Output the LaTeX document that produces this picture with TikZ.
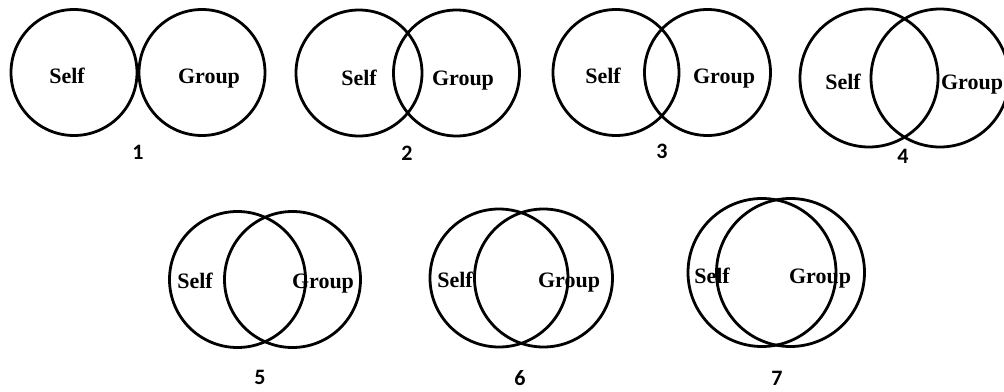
\documentclass[tikz,border=0pt]{standalone}
\usepackage{fontspec}
\setmainfont{Liberation Serif}
\newfontfamily\numfont{Carlito}
\begin{document}
\begin{tikzpicture}[x=1pt,y=-1pt,
  ring/.style={circle,draw=black,line width=2.8pt,inner sep=0pt,minimum size=#1},
  word/.style={font=\fontsize{22}{22}\selectfont\bfseries,inner sep=0pt,anchor=base},
  num/.style={font=\numfont\fontsize{22}{22}\selectfont\bfseries,inner sep=0pt,anchor=base}]
\useasboundingbox[fill=white] (0,0) rectangle (1004,391);
% 1
\node[ring=126] (a1) at (74,72.5) {};
\node[ring=126] (b1) at (202,72.5) {};
\node[word] (s1) at (67,83) {Self};
\node[word] (g1) at (209,83) {Group};
\node[num] (n1) at (138,159) {1};
% 2
\node[ring=126] (a2) at (359,73) {};
\node[ring=126] (b2) at (456.5,73) {};
\node[word] (s2) at (359,85) {Self};
\node[word] (g2) at (463,85) {Group};
\node[num] (n2) at (407,160) {2};
% 3
\node[ring=126] (a3) at (616,72.5) {};
\node[ring=126] (b3) at (707.5,72.5) {};
\node[word] (s3) at (603,83) {Self};
\node[word] (g3) at (724,83) {Group};
\node[num] (n3) at (662,158) {3};
% 4
\node[ring=138] (a4) at (869,78) {};
\node[ring=138] (b4) at (940,78) {};
\node[word] (s4) at (843,89) {Self};
\node[word] (g4) at (972,89) {Group};
\node[num] (n4) at (903,163) {4};
% 5
\node[ring=136] (a5) at (237.5,279.5) {};
\node[ring=136] (b5) at (292.5,279.5) {};
\node[word] (s5) at (195,288) {Self};
\node[word] (g5) at (323,288) {Group};
\node[num] (n5) at (260,384) {5};
% 6
\node[ring=138] (a6) at (499,278) {};
\node[ring=138] (b6) at (543.5,278) {};
\node[word] (s6) at (455,287) {Self};
\node[word] (g6) at (569,287) {Group};
\node[num] (n6) at (520,385) {6};
% 7
\node[ring=148] (a7) at (762,272.5) {};
\node[ring=148] (b7) at (790.5,272.5) {};
\node[word] (s7) at (712,283) {Self};
\node[word] (g7) at (820,283) {Group};
\node[num] (n7) at (777,385) {7};
\end{tikzpicture}
\end{document}
